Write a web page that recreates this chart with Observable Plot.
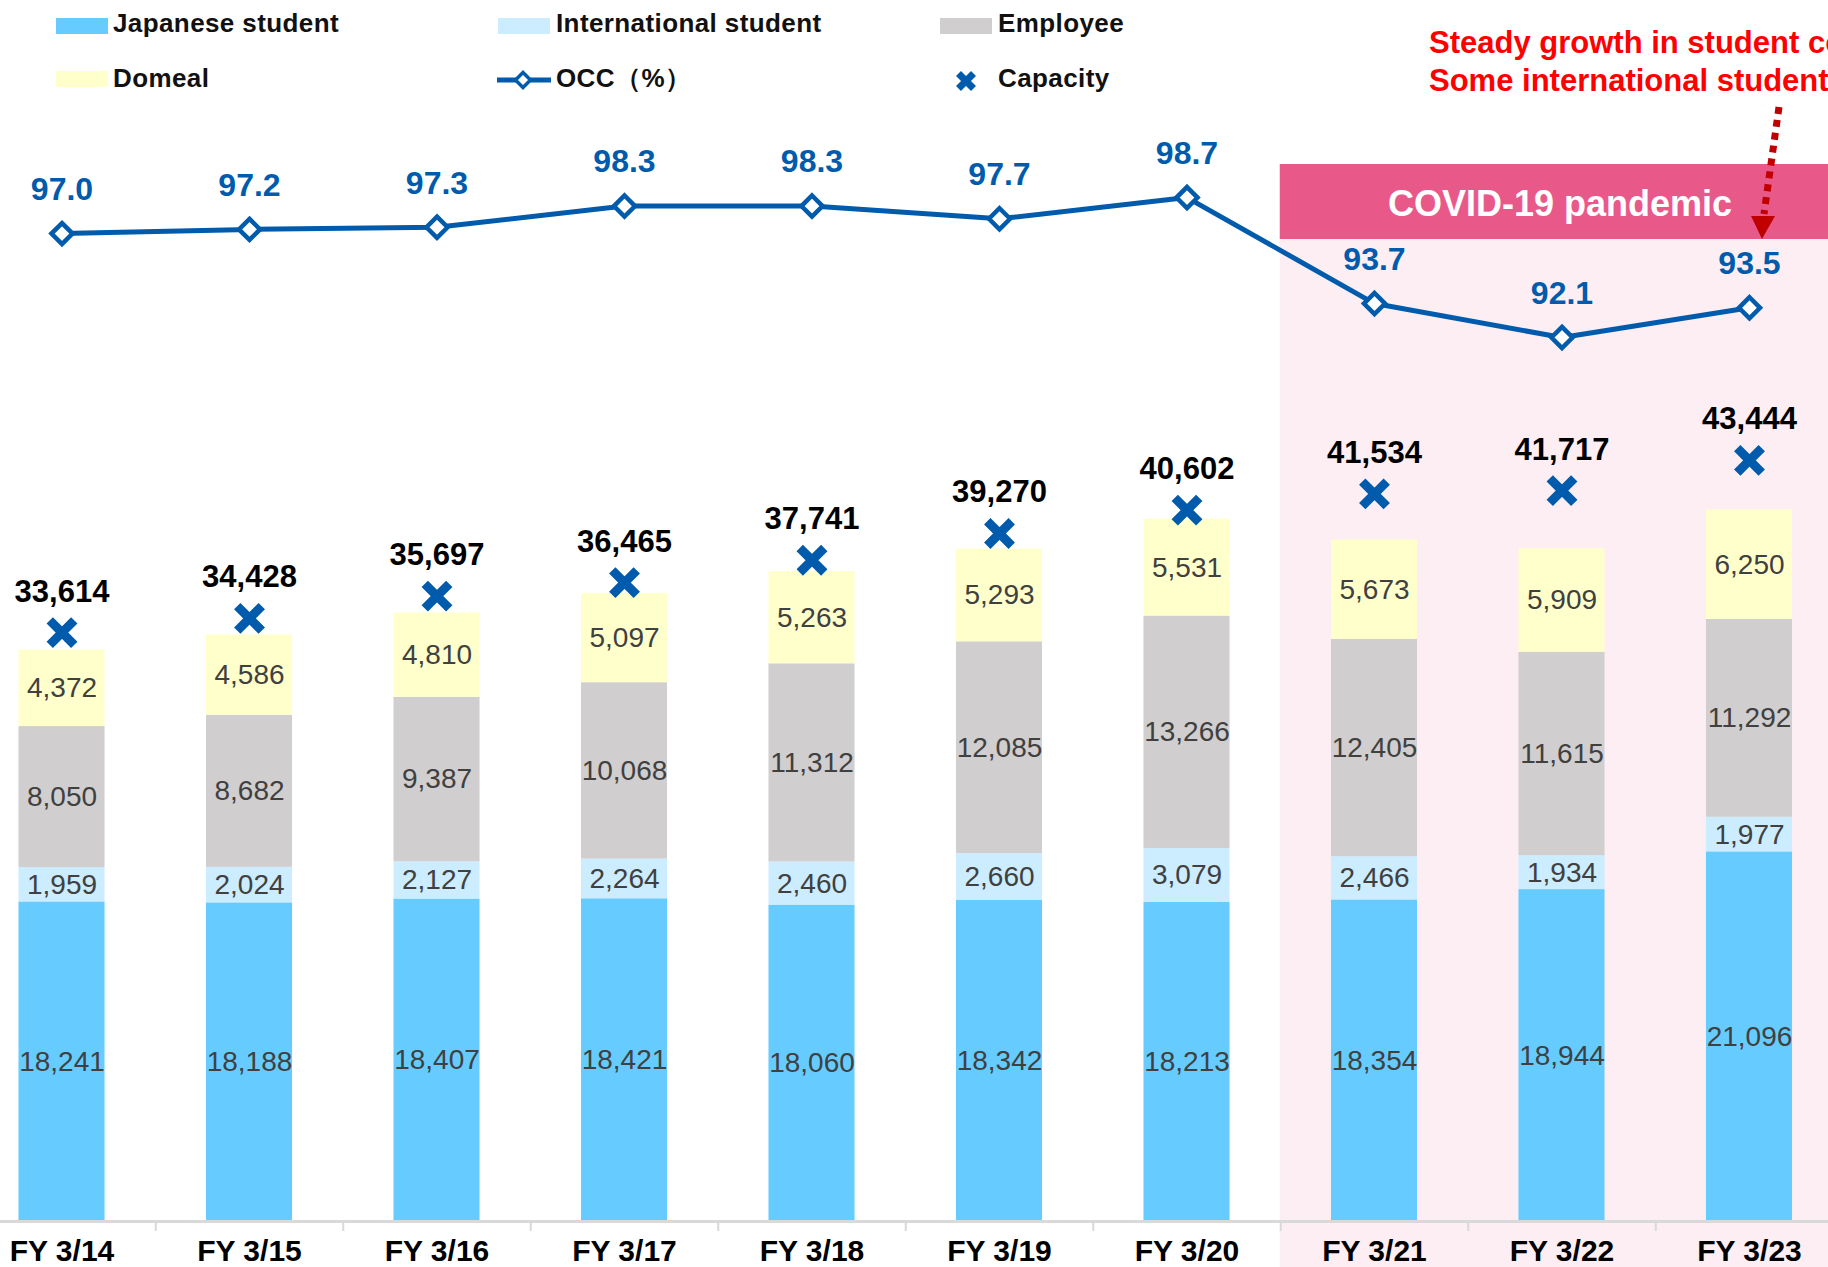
<!DOCTYPE html>
<html>
<head>
<meta charset="utf-8">
<script src="https://cdn.jsdelivr.net/npm/d3@7"></script>
<script src="https://cdn.jsdelivr.net/npm/@observablehq/plot@0.6"></script>
<style>
  html, body { margin: 0; padding: 0; background: #fff; overflow: hidden; }
  #wrap { position: relative; width: 1828px; height: 1267px; }
  #overlay { position: absolute; left: 0; top: 0; pointer-events: none; }
  #chart svg { display: block; }
  text { font-family: "Liberation Sans", Arial, sans-serif; }
</style>
</head>
<body>
<div id="wrap">
  <div id="chart"></div>
  <svg id="overlay" width="1828" height="260" xmlns="http://www.w3.org/2000/svg">
    <g font-weight="bold" font-size="26" fill="#111" letter-spacing="0.4">
      <rect x="56" y="18" width="52" height="16" fill="#66CCFF"></rect>
      <text x="113" y="32">Japanese student</text>
      <rect x="498" y="18" width="52" height="16" fill="#CCECFF"></rect>
      <text x="556" y="32">International student</text>
      <rect x="940" y="18" width="52" height="16" fill="#D0CECE"></rect>
      <text x="998" y="32">Employee</text>
      <rect x="56" y="71" width="52" height="16" fill="#FFFFCC"></rect>
      <text x="113" y="86.5">Domeal</text>
      <line x1="497" y1="80" x2="551" y2="80" stroke="#005BAC" stroke-width="5"></line>
      <path d="M523,72.5 L530.5,80 L523,87.5 L515.5,80 Z" fill="#fff" stroke="#005BAC" stroke-width="3.5"></path>
      <text x="556" y="86.5">OCC（%）</text>
      <path d="M958.5,73.5 L973.5,88.5 M958.5,88.5 L973.5,73.5" stroke="#005BAC" stroke-width="7" fill="none"></path>
      <text x="998" y="86.5">Capacity</text>
    </g>
    <g font-weight="bold" font-size="31" fill="#FF0000">
      <text x="1429" y="53">Steady growth in student contracts</text>
      <text x="1429" y="91">Some international students</text>
    </g>
    <line x1="1779" y1="107" x2="1764" y2="214" stroke="#C00000" stroke-width="7" stroke-dasharray="7 6"></line>
    <polygon points="1751,216 1775,216 1762,239" fill="#C00000"></polygon>
  </svg>
</div>
<script>
// ---------- data ----------
const categories = ["FY 3/14","FY 3/15","FY 3/16","FY 3/17","FY 3/18","FY 3/19","FY 3/20","FY 3/21","FY 3/22","FY 3/23"];
const japaneseStudent      = [18241, 18188, 18407, 18421, 18060, 18342, 18213, 18354, 18944, 21096];
const internationalStudent = [1959, 2024, 2127, 2264, 2460, 2660, 3079, 2466, 1934, 1977];
const employee             = [8050, 8682, 9387, 10068, 11312, 12085, 13266, 12405, 11615, 11292];
const domeal               = [4372, 4586, 4810, 5097, 5263, 5293, 5531, 5673, 5909, 6250];
const capacity             = [33614, 34428, 35697, 36465, 37741, 39270, 40602, 41534, 41717, 43444];
const occ                  = [97.0, 97.2, 97.3, 98.3, 98.3, 97.7, 98.7, 93.7, 92.1, 93.5];
const seriesNames = ["Japanese student", "International student", "Employee", "Domeal"];
const covidPeriod = ["FY 3/21", "FY 3/22", "FY 3/23"];
const covidLabel = "COVID-19 pandemic";

// ---------- layout / styling ----------
const W = 1828, H = 1267, MB = 46;
const PLOT_BOTTOM = H - MB;        // pixel row of the baseline
const Y_MAX = 69692;               // bar-scale value at the top of the svg
const seriesColors = ["#66CCFF", "#CCECFF", "#D0CECE", "#FFFFCC"];
const BLUE = "#005BAC";
const STEP = 187.5, PAD_INNER = 0.541, FIRST_CENTER = 61.5;
const GAP = STEP * PAD_INNER / 2 + 0.5;
const atPx = p => (PLOT_BOTTOM - p) / PLOT_BOTTOM * Y_MAX; // for annotation bands
// OCC (%) is drawn on a secondary axis mapped onto the bar scale
const occToY = v => (v - 50.4) * 1210;
const fmt = d3.format(",");

const seriesValues = [japaneseStudent, internationalStudent, employee, domeal];
const rows = categories.flatMap((cat, i) => {
  let acc = 0;
  return seriesNames.map((s, j) => {
    const v = seriesValues[j][i];
    const r = {cat, series: s, value: v, y1: acc, y2: acc + v};
    acc += v;
    return r;
  });
});
const points = categories.map((cat, i) => ({cat, capacity: capacity[i], occ: occ[i]}));

const chart = Plot.plot({
  width: W,
  height: H,
  marginTop: 0,
  marginBottom: MB,
  marginLeft: 0,
  marginRight: 0,
  style: {fontFamily: "'Liberation Sans', Arial, sans-serif", background: "transparent"},
  x: {domain: categories, range: [FIRST_CENTER - STEP / 2, FIRST_CENTER + STEP * 9.5], paddingInner: PAD_INNER, paddingOuter: PAD_INNER / 2, align: 0.5, round: false, label: null},
  y: {domain: [0, Y_MAX], axis: null},
  color: {domain: seriesNames, range: seriesColors},
  marks: [
    // COVID-19 shaded period
    Plot.barY(covidPeriod, {x: d => d, y1: atPx(H), y2: atPx(239), fill: "#FCEEF3", insetLeft: -GAP, insetRight: -GAP}),
    Plot.barY(covidPeriod, {x: d => d, y1: atPx(239), y2: atPx(164), fill: "#E8598A", insetLeft: -GAP, insetRight: -GAP}),
    Plot.text([covidLabel], {x: () => covidPeriod[1], y: (atPx(239) + atPx(164)) / 2, text: d => d, fill: "#fff", fontSize: 36, fontWeight: "bold", dx: -2, dy: 2}),
    // stacked bars
    Plot.barY(rows, {x: "cat", y1: "y1", y2: "y2", fill: "series"}),
    Plot.text(rows, {x: "cat", y: d => (d.y1 + d.y2) / 2, text: d => fmt(d.value), fill: "#404040", fontSize: 28}),
    // baseline + category separators
    Plot.ruleY([0], {stroke: "#D9D9D9", strokeWidth: 3}),
    Plot.ruleX(categories.slice(0, -1), {x: d => d, dx: STEP / 2, y1: 0, y2: atPx(PLOT_BOTTOM + 10), stroke: "#D9D9D9", strokeWidth: 2}),
    // capacity
    Plot.dot(points, {x: "cat", y: "capacity", symbol: "times", r: 11.2, stroke: BLUE, strokeWidth: 9}),
    Plot.text(points, {x: "cat", y: "capacity", text: d => fmt(d.capacity), dy: -41, fill: "#000", fontSize: 31, fontWeight: "bold"}),
    // OCC line
    Plot.line(points, {x: "cat", y: d => occToY(d.occ), stroke: BLUE, strokeWidth: 5}),
    Plot.dot(points, {x: "cat", y: d => occToY(d.occ), symbol: "diamond2", r: 9.5, fill: "#fff", stroke: BLUE, strokeWidth: 4.5}),
    Plot.text(points, {x: "cat", y: d => occToY(d.occ), text: d => d.occ.toFixed(1), dy: -44, fill: BLUE, fontSize: 32, fontWeight: "bold"}),
    // x axis
    Plot.axisX({tickSize: 0, tickPadding: 18, fontSize: 30, fontWeight: "bold", fill: "#000", label: null})
  ]
});
document.getElementById("chart").appendChild(chart);
</script>
</body>
</html>
